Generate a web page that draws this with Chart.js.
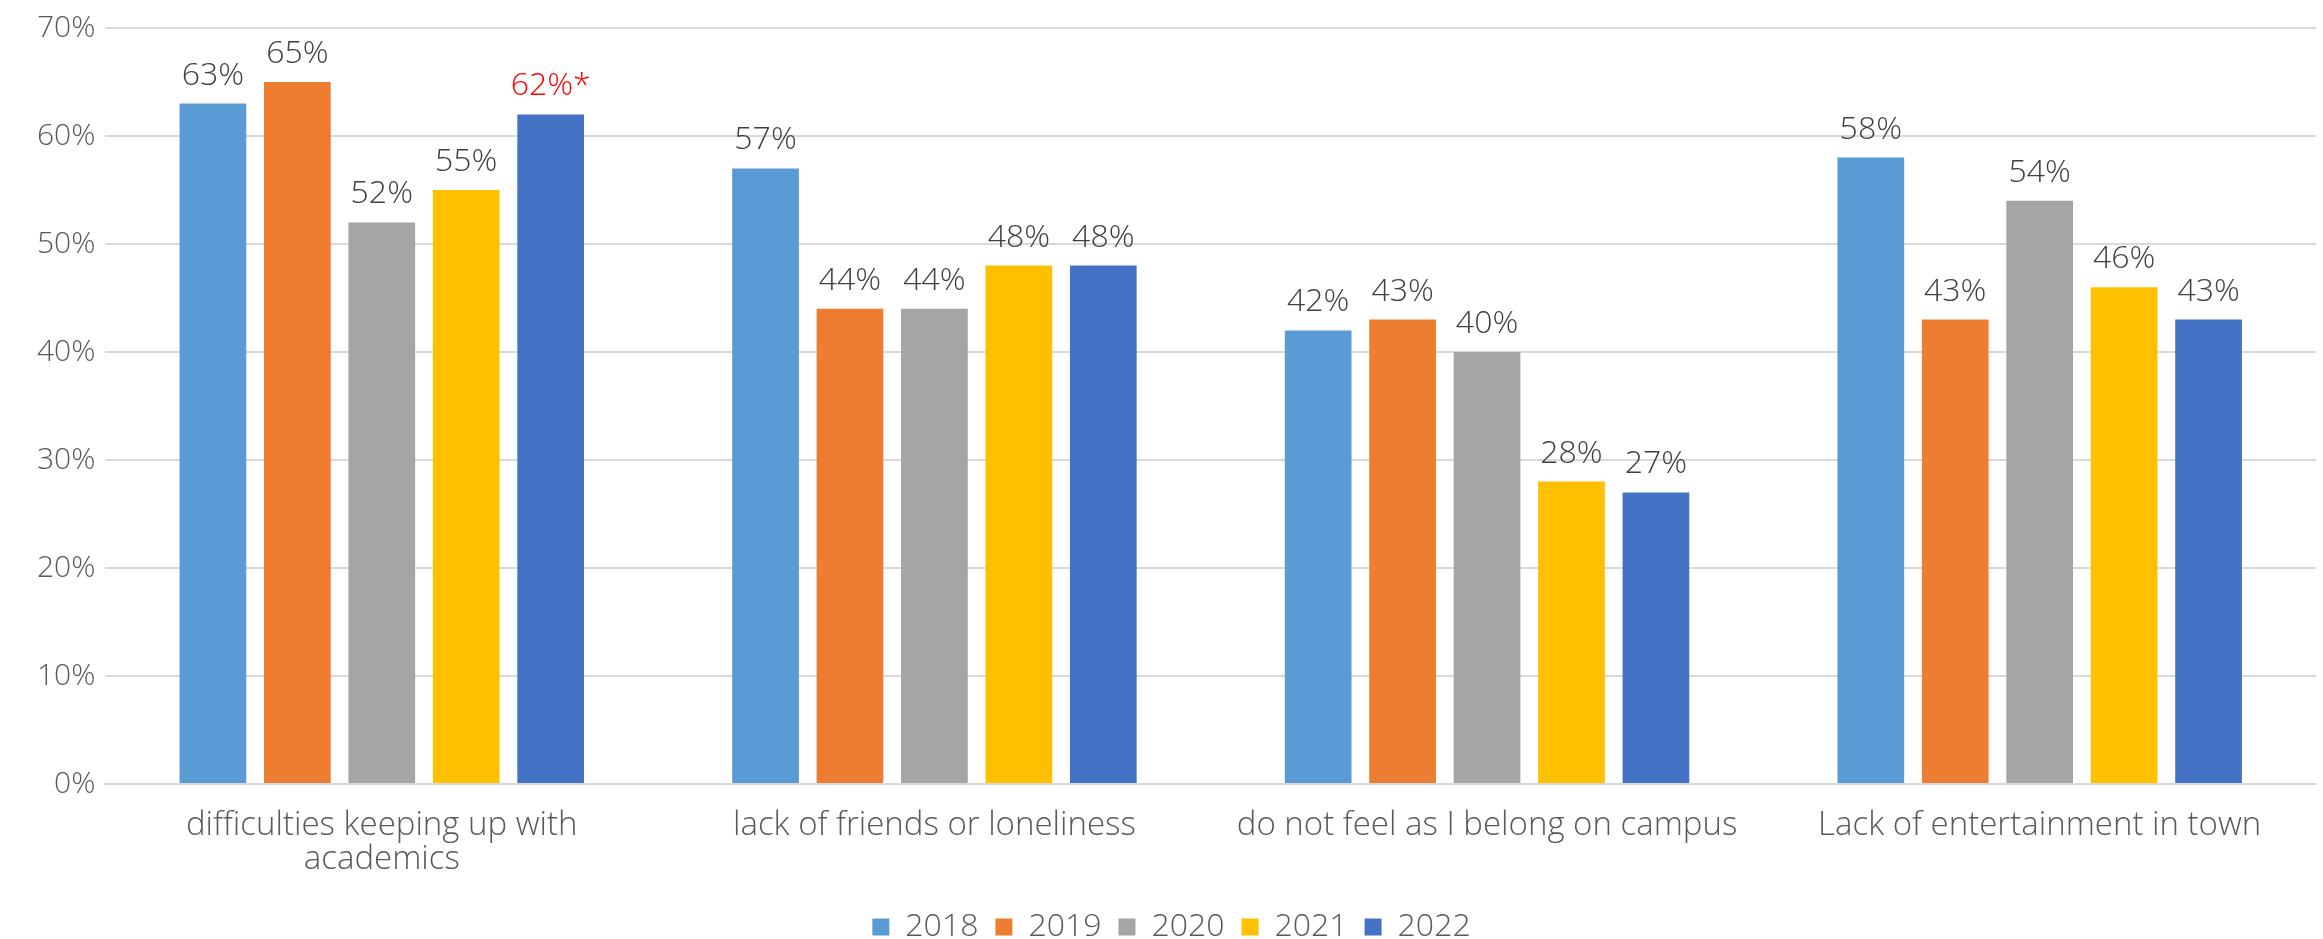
<!DOCTYPE html>
<html>
<head>
<meta charset="utf-8">
<script src="https://cdn.jsdelivr.net/npm/chart.js@4.4.1/dist/chart.umd.min.js"></script>
<style>
  html, body { margin: 0; padding: 0; background: #ffffff; }
  #wrap { width: 2323px; height: 939px; position: relative; }
</style>
</head>
<body>
<div id="wrap"><canvas id="barChart"></canvas></div>
<script>
// categories (x axis)
const categories = [
    ['difficulties keeping up with', 'academics'],
    'lack of friends or loneliness',
    'do not feel as I belong on campus',
    'Lack of entertainment in town'
];

// one series per survey year, values in %
const years = ['2018', '2019', '2020', '2021', '2022'];
const v2018 = [63, 57, 42, 58];
const v2019 = [65, 44, 43, 43];
const v2020 = [52, 44, 40, 54];
const v2021 = [55, 48, 28, 46];
const v2022 = [62, 48, 27, 43];

// the one label marked in red with an asterisk
const flagged = { dataset: 4, index: 0, suffix: '*' };

const colors = ['#5B9BD5', '#ED7D31', '#A5A5A5', '#FFC000', '#4472C4'];
const fontFamily = '"Open Sans", "DejaVu Sans", sans-serif';

// draws the value above every bar
const valueLabels = {
    id: 'valueLabels',
    afterDatasetsDraw(chart) {
        const ctx = chart.ctx;
        ctx.save();
        ctx.font = '300 32px ' + fontFamily;
        ctx.textAlign = 'center';
        ctx.textBaseline = 'alphabetic';
        chart.data.datasets.forEach((ds, di) => {
            const meta = chart.getDatasetMeta(di);
            meta.data.forEach((bar, i) => {
                let text = ds.data[i] + '%';
                ctx.fillStyle = '#404040';
                if (di === flagged.dataset && i === flagged.index) {
                    text += flagged.suffix;
                    ctx.fillStyle = '#FF0000';
                }
                ctx.fillText(text, bar.x, bar.y - 19);
            });
        });
        ctx.restore();
    }
};

const series = [v2018, v2019, v2020, v2021, v2022];

new Chart(document.getElementById('barChart'), {
    type: 'bar',
    data: {
        labels: categories,
        datasets: years.map((y, i) => ({
            label: y,
            data: series[i],
            backgroundColor: colors[i],
            borderWidth: 0,
            categoryPercentage: 0.764,
            barPercentage: 0.79
        }))
    },
    options: {
        responsive: true,
        maintainAspectRatio: false,
        animation: false,
        layout: {
            padding: { left: 27, right: 7, top: 4, bottom: -14 }
        },
        scales: {
            x: {
                grid: { display: false, drawTicks: false },
                border: { color: '#D9D9D9', width: 2 },
                ticks: {
                    color: '#595959',
                    padding: 25,
                    font: { family: fontFamily, size: 33, weight: '300', lineHeight: 1.03 }
                },
                afterFit(scale) { scale.height = 110; }
            },
            y: {
                min: 0,
                max: 70,
                grid: { color: '#D9D9D9', lineWidth: 2, drawTicks: false },
                border: { display: false },
                ticks: {
                    stepSize: 10,
                    color: '#595959',
                    padding: 10,
                    font: { family: fontFamily, size: 30, weight: '300' },
                    callback: v => v + '%'
                }
            }
        },
        plugins: {
            tooltip: { enabled: false },
            legend: {
                position: 'bottom',
                labels: {
                    color: '#595959',
                    boxWidth: 17,
                    boxHeight: 17,
                    padding: 17,
                    font: { family: fontFamily, size: 32, weight: '300', lineHeight: 1 }
                }
            }
        }
    },
    plugins: [valueLabels]
});
</script>
</body>
</html>
